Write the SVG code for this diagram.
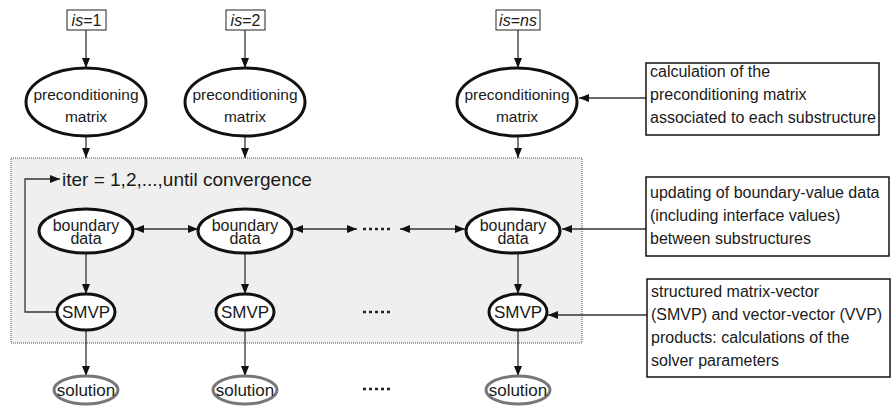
<svg xmlns="http://www.w3.org/2000/svg" width="892" height="408" viewBox="0 0 892 408">
<style>
text{font-family:"Liberation Sans",Arial,sans-serif;fill:#1a1a1a}
.t16{font-size:16px}
.t15{font-size:15.5px}
.t17{font-size:17px}
.t19{font-size:19px}
.mid{text-anchor:middle}
.el{fill:#fff;stroke:#111;stroke-width:3}
.sol{fill:#fff;stroke:#777;stroke-width:3}
.box{fill:#fff;stroke:#111;stroke-width:1.5}
.small{fill:#fff;stroke:#222;stroke-width:1}
.con{fill:none;stroke:#333;stroke-width:1.3}
.dots{stroke:#222;stroke-width:2.5;stroke-dasharray:3 3}
</style>
<defs>
<marker id="ah" markerUnits="userSpaceOnUse" markerWidth="10" markerHeight="8" refX="10" refY="4" orient="auto-start-reverse">
<path d="M0,0 L10,4 L0,8 z" fill="#111"/>
</marker>
</defs>

<g id="region">
<rect x="11" y="158" width="571" height="185" fill="#efefef" stroke="#555" stroke-width="1" stroke-dasharray="1 1"/>
</g>

<g id="connectors">
<line class="con" x1="86" y1="30" x2="86" y2="68" marker-end="url(#ah)"/>
<line class="con" x1="245" y1="30" x2="245" y2="68" marker-end="url(#ah)"/>
<line class="con" x1="518" y1="30" x2="518" y2="68" marker-end="url(#ah)"/>
<line class="con" x1="86" y1="136" x2="86" y2="158" marker-end="url(#ah)"/>
<line class="con" x1="245" y1="136" x2="245" y2="158" marker-end="url(#ah)"/>
<line class="con" x1="518" y1="136" x2="518" y2="158" marker-end="url(#ah)"/>
<line class="con" x1="646" y1="98" x2="579" y2="98" marker-end="url(#ah)"/>
<path class="con" d="M57,312 H25 V179 H60" marker-end="url(#ah)"/>
<line class="con" x1="134" y1="229" x2="198" y2="229" marker-start="url(#ah)" marker-end="url(#ah)"/>
<line class="con" x1="293" y1="229" x2="357" y2="229" marker-start="url(#ah)" marker-end="url(#ah)"/>
<line class="con" x1="400" y1="229" x2="465" y2="229" marker-start="url(#ah)" marker-end="url(#ah)"/>
<line class="con" x1="646" y1="229" x2="562" y2="229" marker-end="url(#ah)"/>
<line class="con" x1="86" y1="253" x2="86" y2="294" marker-end="url(#ah)"/>
<line class="con" x1="245" y1="253" x2="245" y2="294" marker-end="url(#ah)"/>
<line class="con" x1="518" y1="253" x2="518" y2="294" marker-end="url(#ah)"/>
<line class="con" x1="647" y1="315" x2="548" y2="315" marker-end="url(#ah)"/>
<line class="con" x1="86" y1="330" x2="86" y2="376" marker-end="url(#ah)"/>
<line class="con" x1="245" y1="330" x2="245" y2="376" marker-end="url(#ah)"/>
<line class="con" x1="518" y1="330" x2="518" y2="376" marker-end="url(#ah)"/>
</g>

<g id="is1">
<rect class="small" x="67" y="10" width="39" height="20"/>
<text class="t16 mid" x="86.5" y="26"><tspan font-style="italic">is</tspan>=1</text>
</g>
<g id="is2">
<rect class="small" x="226" y="10" width="39" height="20"/>
<text class="t16 mid" x="245.5" y="26"><tspan font-style="italic">is</tspan>=2</text>
</g>
<g id="isns">
<rect class="small" x="496" y="10" width="44" height="20"/>
<text class="t16 mid" x="518" y="26"><tspan font-style="italic">is</tspan>=<tspan font-style="italic">ns</tspan></text>
</g>

<g id="precond1">
<ellipse class="el" cx="86" cy="102" rx="60" ry="34"/>
<text class="t15 mid" x="86" y="100">preconditioning</text>
<text class="t15 mid" x="86" y="122">matrix</text>
</g>
<g id="precond2">
<ellipse class="el" cx="245" cy="102" rx="60" ry="34"/>
<text class="t15 mid" x="245" y="100">preconditioning</text>
<text class="t15 mid" x="245" y="122">matrix</text>
</g>
<g id="precond3">
<ellipse class="el" cx="517" cy="102" rx="60" ry="34"/>
<text class="t15 mid" x="517" y="100">preconditioning</text>
<text class="t15 mid" x="517" y="122">matrix</text>
</g>

<g id="note1">
<rect class="box" x="646" y="63" width="233" height="72"/>
<text class="t16" x="650" y="77">calculation of the</text>
<text class="t16" x="650" y="100">preconditioning matrix</text>
<text class="t16" x="650" y="123">associated to each substructure</text>
</g>

<g id="iter">
<text class="t19" x="62" y="186">iter = 1,2,...,until convergence</text>
</g>

<g id="boundary1">
<ellipse class="el" cx="86" cy="231" rx="47" ry="22"/>
<text class="t16 mid" x="86" y="231">boundary</text>
<text class="t16 mid" x="86" y="244">data</text>
</g>
<g id="boundary2">
<ellipse class="el" cx="245" cy="231" rx="47" ry="22"/>
<text class="t16 mid" x="245" y="231">boundary</text>
<text class="t16 mid" x="245" y="244">data</text>
</g>
<g id="boundary3">
<ellipse class="el" cx="513" cy="231" rx="47" ry="22"/>
<text class="t16 mid" x="513" y="231">boundary</text>
<text class="t16 mid" x="513" y="244">data</text>
</g>
<g id="dots1"><line class="dots" x1="363" y1="229" x2="393" y2="229"/></g>

<g id="note2">
<rect class="box" x="646" y="177" width="243" height="79"/>
<text class="t16" x="650" y="198">updating of boundary-value data</text>
<text class="t16" x="650" y="221">(including interface values)</text>
<text class="t16" x="650" y="244">between substructures</text>
</g>

<g id="smvp1">
<ellipse class="el" cx="86" cy="312" rx="29" ry="18"/>
<text class="t17 mid" x="86" y="318">SMVP</text>
</g>
<g id="smvp2">
<ellipse class="el" cx="245" cy="312" rx="29" ry="18"/>
<text class="t17 mid" x="245" y="318">SMVP</text>
</g>
<g id="smvp3">
<ellipse class="el" cx="518" cy="312" rx="29" ry="18"/>
<text class="t17 mid" x="518" y="318">SMVP</text>
</g>
<g id="dots2"><line class="dots" x1="363" y1="312" x2="393" y2="312"/></g>

<g id="note3">
<rect class="box" x="647" y="279" width="243" height="98"/>
<text class="t16" x="651" y="297">structured matrix-vector</text>
<text class="t16" x="651" y="320">(SMVP) and vector-vector (VVP)</text>
<text class="t16" x="651" y="343">products: calculations of the</text>
<text class="t16" x="651" y="366">solver parameters</text>
</g>

<g id="solution1">
<ellipse class="sol" cx="86" cy="390" rx="32" ry="14"/>
<text class="t17 mid" x="86" y="396">solution</text>
</g>
<g id="solution2">
<ellipse class="sol" cx="245" cy="390" rx="32" ry="14"/>
<text class="t17 mid" x="245" y="396">solution</text>
</g>
<g id="solution3">
<ellipse class="sol" cx="518" cy="390" rx="32" ry="14"/>
<text class="t17 mid" x="518" y="396">solution</text>
</g>
<g id="dots3"><line class="dots" x1="363" y1="389" x2="393" y2="389"/></g>
</svg>
